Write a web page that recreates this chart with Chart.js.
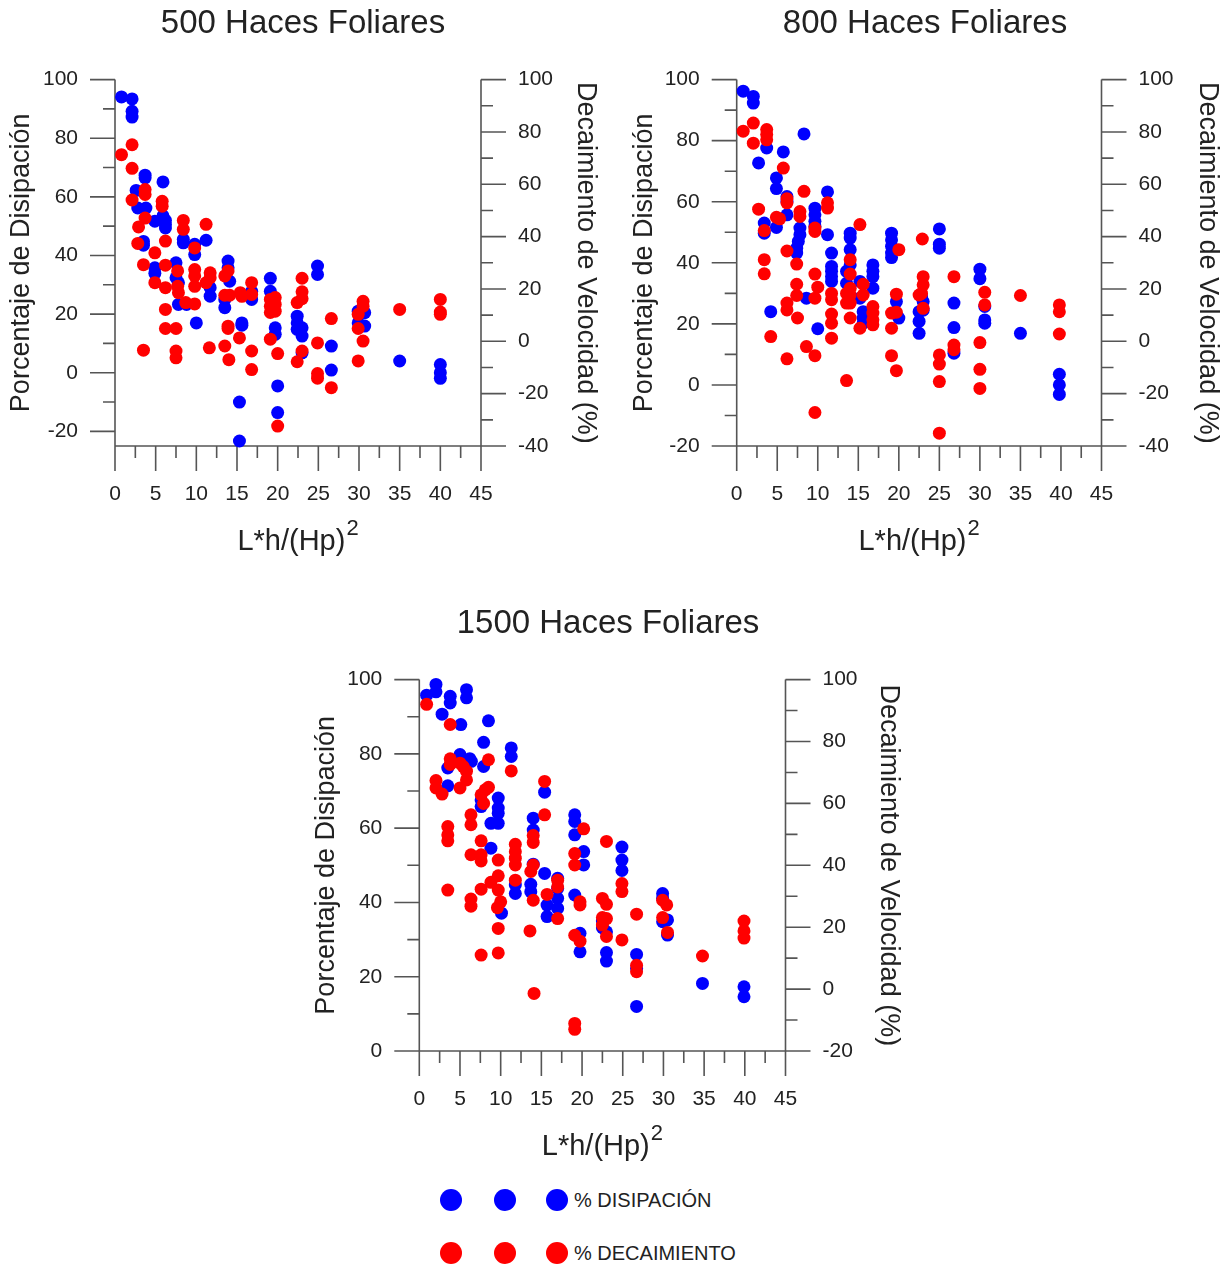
<!DOCTYPE html>
<html>
<head>
<meta charset="utf-8">
<script src="https://cdn.jsdelivr.net/npm/chart.js@4.4.0/dist/chart.umd.min.js"></script>
<style>
  body { margin: 0; background: #fff; width: 1228px; height: 1265px; position: relative; overflow: hidden;
         font-family: "Liberation Sans", Arial, sans-serif; }
  canvas { position: absolute; }
  .dot { position: absolute; width: 22px; height: 22px; border-radius: 50%; }
  .legend-text { position: absolute; font-size: 20px; color: #222; line-height: 24px; white-space: nowrap; }
</style>
</head>
<body>
<canvas id="chart500" width="606" height="562" style="left:0px;top:0px"></canvas>
<canvas id="chart800" width="606" height="562" style="left:622px;top:0px"></canvas>
<canvas id="chart1500" width="606" height="566" style="left:305px;top:600px"></canvas>

<div id="legend"></div>

<script>
// ---------------- data (x = L*h/(Hp)^2) ----------------
// % disipacion -> left axis, % decaimiento -> right axis
const dis500 = [[0.8,94.1],[2.1,93.4],[2.1,89.2],[2.1,87.2],[3.7,67.4],[3.7,66.5],[2.6,62.2],[2.8,56.2],[3.8,56.2],
  [5.9,65.1],[4.9,51.7],[6.2,52],[6.2,50.6],[6.2,49.4],[5.9,53.5],[3.5,44.8],[3.5,43.5],[4.9,35.8],[4.9,33.9],
  [7.5,37.5],[7.5,32.4],[7.8,30.7],[7.8,23.3],[8.8,23.3],[8.4,45.5],[8.4,44.3],[9.8,43.8],[9.8,40.3],[11.2,45.2],
  [10,17],[11.7,29],[11.7,26.1],[13.9,38.1],[13.9,35.8],[14.1,31.2],[13.5,25],[13.5,22.2],[15.6,17],[15.6,16.2],
  [16.8,27.8],[16.8,25],[19.1,32.2],[19.1,27.8],[19.7,15.3],[19.7,13.1],[20,-4.5],[20,-13.6],[15.3,-10],[15.3,-23.3],
  [22.4,19.3],[22.4,17],[22.4,14.8],[23,15.3],[23,12.5],[23,6.8],[24.9,36.4],[24.9,33.5],[26.6,9.1],[26.6,0.9],
  [29.9,21],[30.7,20.5],[29.9,17],[30.7,15.9],[35,4],[40,2.8],[40,0],[40,-1.9]];
const dec500 = [[0.8,71.3],[2.1,75.1],[2.1,66.1],[2.1,54],[2.9,43.7],[2.8,37.4],[3.7,58],[3.7,56.1],[3.7,47.1],
  [3.5,29.3],[3.5,-3.4],[4.9,33.8],[4.9,22.4],[5.8,53.5],[5.8,51.6],[6.2,38.3],[6.2,29.1],[6.2,20.5],[6.2,12.2],
  [6.2,4.9],[7.5,4.9],[7.5,-3.7],[7.5,-6.3],[7.7,26.9],[7.7,21],[7.8,18.6],[8.4,46.2],[8.4,42.8],[8.7,14.8],
  [9.8,35.7],[9.8,27.4],[9.8,25],[9.8,21],[9.8,14.3],[11.2,44.7],[11.2,22.4],[11.7,26.2],[11.7,24.3],[11.6,-2.5],
  [13.5,25],[13.9,26.9],[13.5,17.6],[14.1,17.6],[13.5,-1.8],[13.9,5.8],[13.9,4.9],[14,-7],[15.3,1.3],[15.4,18.6],
  [15.6,17.2],[16.8,22.4],[16.8,17.9],[16.8,-3.7],[16.8,-10.8],[19.1,16],[19.1,13.4],[19.1,11],[19.7,16.7],
  [19.7,14.1],[19.7,11.5],[19.1,0.8],[20,-4.7],[20,-32.4],[23,24.1],[23,18.9],[23,16.3],[22.4,14.8],[22.4,-7.8],
  [23,-3.7],[24.9,-0.6],[24.9,-12.3],[24.9,-14.1],[26.6,8.7],[26.6,-17.7],[30.5,15.3],[30.5,13.4],[29.9,10.3],
  [29.9,4.9],[30.5,0.1],[29.9,-7.5],[35,12.2],[40,16],[40,11.2],[40,10.3]];

const dis800 = [[0.8,96.2],[2.05,94.5],[2.05,92.3],[3.7,77.6],[2.7,72.7],[5.75,76.3],[8.3,82.2],[4.9,67.8],[4.9,64.3],
  [6.2,61.7],[6.2,60.1],[6.2,55.7],[3.4,53],[3.4,49.7],[4.9,51.6],[7.8,51.4],[7.8,49.2],[7.6,47],[7.4,44.8],[7.4,43.2],
  [9.65,57.9],[9.65,55.7],[9.65,53.6],[9.65,51.9],[11.2,63.2],[11.2,49.2],[11.7,43.2],[11.7,38.8],[11.7,37.2],
  [11.7,35.5],[11.7,33.9],[4.2,24],[8.6,28.4],[10,18.4],[14,49.7],[14,48.1],[14,44.3],[14,39.3],[13.55,37.2],
  [13.55,33.3],[15.2,33.9],[15.2,28.4],[15.6,24],[15.6,21.9],[15.6,20.2],[16.8,39.3],[16.8,37.2],[16.8,35.5],
  [16.8,31.7],[19.1,49.7],[19.1,47.5],[19.1,45.4],[19.1,43.2],[19.1,41.7],[19.7,27.3],[20,21.9],[22.5,24],
  [22.5,20.8],[22.5,16.9],[23,27.3],[23,24.5],[22.8,29],[25,51.1],[25,46.1],[25,44.8],[26.8,26.8],[26.8,18.8],
  [26.8,10.4],[30,37.9],[30,34.8],[30.6,25.7],[30.6,21.3],[30.6,20.2],[35,16.9],[39.8,3.5],[39.8,0],[39.8,-3.1]];
const dec800 = [[0.8,80.3],[2.05,83.4],[2.05,75.7],[3.7,80.9],[3.7,79],[3.7,77],[5.75,66.2],[2.7,50.5],[3.4,42.3],
  [3.4,31.2],[3.4,25.8],[4.2,1.8],[4.9,47.4],[5.3,46.8],[6.2,54.5],[6.2,52.9],[6.2,34.5],[6.2,14.6],[6.2,12],
  [6.2,-6.7],[7.8,49.6],[7.8,47.7],[7.4,29.5],[7.4,21.8],[7.4,17.5],[7.5,8.9],[8.3,57.3],[8.6,-2],[9.65,43.3],
  [9.65,42],[9.65,25.7],[10,20.7],[9.65,16.5],[9.65,-5.5],[9.65,-27.2],[11.2,52.9],[11.2,50.9],[11.7,18.3],
  [11.7,15.9],[11.7,10.4],[11.7,6.9],[11.7,1.2],[14,31.2],[14,25.7],[14,20.3],[14,17.7],[14,14.6],[13.55,18.3],
  [13.55,14.6],[14,8.9],[13.55,-15],[15.2,44.6],[15.6,21.8],[15.6,17.7],[15.2,5],[16.8,13.3],[16.8,10.8],
  [16.8,8.2],[16.8,6.3],[19.1,10.8],[19.1,5],[19.1,-5.5],[19.7,18],[19.7,11.1],[19.7,-11.2],[20,35],[22.9,39.1],
  [23,24.7],[23,21.6],[22.8,18.3],[22.5,17.7],[23,12.6],[25,-5.2],[25,-8.7],[25,-15.4],[25,-35.1],[26.8,24.7],
  [26.8,-1.4],[26.8,-3.2],[30,-0.5],[30,-10.7],[30,-18],[30.6,18.7],[30.6,13.9],[35,17.5],[39.8,13.9],[39.8,11.3],
  [39.8,2.8]];

const dis1500 = [[0.9,95.8],[2.05,98.7],[2.05,96.7],[2.8,90.7],[3.8,95.5],[3.8,93.7],[5.8,97.3],[5.8,95.1],[5.1,87.9],
  [8.5,88.9],[7.9,83.1],[5,79.8],[6.2,78.7],[6.4,78],[3.5,76.2],[3.5,71.4],[7.9,76.6],[11.3,81.6],[11.3,79.3],
  [7.6,67.6],[7.6,65.8],[9.7,68.1],[9.7,65.4],[9.7,64],[9.7,61.3],[8.8,61.3],[8.8,54.6],[10.1,37.1],[15.4,69.7],
  [14,62.7],[14,59.5],[14,50.3],[13.7,44.9],[13.7,42.9],[11.8,44.7],[11.8,42.4],[15.4,47.8],[15.7,39.3],[15.7,36.2],
  [17,46.5],[17,43.8],[17,41.1],[17,38.4],[19.1,63.6],[19.1,61.8],[19.1,58.2],[20.2,53.7],[20.2,50.1],[19.1,42],
  [19.75,31.7],[19.75,26.7],[22.5,35],[22.5,33.2],[23,32.1],[23,26.5],[23,24.2],[24.9,54.9],[24.9,51.4],[24.9,48.6],
  [26.7,26],[26.7,22.2],[26.7,12],[29.9,42.4],[29.9,41.1],[29.9,34.8],[30.5,35.3],[30.5,31.2],[34.8,18.2],
  [39.9,17.3],[39.9,14.6]];
const dec1500 = [[0.9,92],[3.8,85.5],[3.8,74.4],[3.8,72.6],[2.05,67.4],[2.05,65],[2.8,63],[5,73],[5.4,71.9],
  [5.8,70.4],[5.8,67.6],[5,65],[8.5,74.1],[7.6,62.8],[8.1,64.4],[8.5,65.2],[7.9,60],[11.3,70.5],[6.35,56.3],
  [6.35,53.1],[3.5,52.5],[3.5,49.8],[3.5,47.9],[7.6,47.9],[6.35,43.4],[7.6,43.4],[7.6,41.4],[3.5,32],[6.35,29.1],
  [6.35,26.8],[7.6,32.3],[8.8,34.5],[9.7,41.7],[9.7,36.6],[9.7,32],[10,28.2],[9.6,26.3],[9.7,19.6],[7.6,11],
  [9.7,11.7],[11.8,46.8],[11.8,44.4],[11.8,42.3],[11.8,40.1],[11.8,35.2],[14,49.6],[14,47.4],[14,40.1],[13.7,38],
  [14,28.7],[13.6,18.8],[14.1,-1.4],[15.4,67.1],[15.4,56.3],[15.7,30.6],[17,35.2],[17,33],[17,22.8],[19.1,43.8],
  [19.1,40.1],[20.2,51.8],[19.75,28.2],[19.75,27.2],[19.1,17.4],[19.75,15.5],[19.1,-11.1],[19.1,-13],[23,47.7],
  [22.5,29.3],[23,27.4],[22.5,23.1],[23,22.8],[22.5,20.7],[23,17],[24.9,34.1],[24.9,31.5],[24.9,15.9],[26.7,24.2],
  [26.7,7.7],[26.7,5.6],[29.9,28.7],[30.4,27.2],[29.9,23.1],[30.5,18.3],[34.8,10.7],[39.9,22],[39.9,18.8],[39.9,16.5]];

// tick labels
const xTickLabels = [0, 5, 10, 15, 20, 25, 30, 35, 40, 45];
const leftTicks500 = [-20, 0, 20, 40, 60, 80, 100];
const leftTicks800 = [-20, 0, 20, 40, 60, 80, 100];
const leftTicks1500 = [0, 20, 40, 60, 80, 100];
const rightTicks500 = [-40, -20, 0, 20, 40, 60, 80, 100];
const rightTicks800 = [-40, -20, 0, 20, 40, 60, 80, 100];
const rightTicks1500 = [-20, 0, 20, 40, 60, 80, 100];

const seriesNames = ["% DISIPACIÓN", "% DECAIMIENTO"];
const seriesColors = ["#0000ff", "#ff0000"];

// ---------------- drawing ----------------
const FONT = '"Liberation Sans", Arial, sans-serif';
const TEXT = "#222";
const AXIS = "#555";
const MAJOR = 25;
const MINOR = 12;

Chart.defaults.font.family = FONT;
Chart.defaults.color = TEXT;

// every labelled tick plus the minor one halfway to the next
function withMinor(labels) {
  const out = [];
  labels.forEach((v, i) => {
    out.push(v);
    if (i < labels.length - 1) out.push((v + labels[i + 1]) / 2);
  });
  return out;
}

const toPoints = (arr) => arr.map(p => ({ x: p[0], y: p[1] }));

// axis lines and tick marks (drawn under the points)
const framePlugin = {
  id: "frame",
  beforeDatasetsDraw(chart) {
    const { ctx, chartArea: a, scales } = chart;
    ctx.save();
    ctx.strokeStyle = AXIS;
    ctx.lineWidth = 1.6;
    ctx.beginPath();
    ctx.moveTo(a.left, a.bottom);
    ctx.lineTo(a.right, a.bottom);
    ctx.moveTo(a.left, a.top);
    ctx.lineTo(a.left, a.bottom + MAJOR);
    ctx.moveTo(a.right, a.top);
    ctx.lineTo(a.right, a.bottom + MAJOR);

    scales.x.ticks.forEach(t => {
      const px = scales.x.getPixelForValue(t.value);
      const len = t.label !== "" ? MAJOR : MINOR;
      ctx.moveTo(px, a.bottom);
      ctx.lineTo(px, a.bottom + len);
    });
    scales.y.ticks.forEach(t => {
      const py = scales.y.getPixelForValue(t.value);
      const len = t.label !== "" ? MAJOR : MINOR;
      ctx.moveTo(a.left, py);
      ctx.lineTo(a.left - len, py);
    });
    scales.y2.ticks.forEach(t => {
      const py = scales.y2.getPixelForValue(t.value);
      const len = t.label !== "" ? MAJOR : MINOR;
      ctx.moveTo(a.right, py);
      ctx.lineTo(a.right + len, py);
    });
    ctx.stroke();
    ctx.restore();
  }
};

// x axis title with the raised "2"
const xTitlePlugin = {
  id: "xTitle",
  afterDraw(chart) {
    const { ctx, chartArea: a } = chart;
    const main = "L*h/(Hp)";
    const sup = "2";
    ctx.save();
    ctx.fillStyle = TEXT;
    ctx.textBaseline = "alphabetic";
    ctx.textAlign = "left";
    ctx.font = "29px " + FONT;
    const w1 = ctx.measureText(main).width;
    ctx.font = "22px " + FONT;
    const w2 = ctx.measureText(sup).width;
    const x0 = (a.left + a.right) / 2 - (w1 + w2 + 1) / 2;
    const base = a.bottom + 104;
    ctx.font = "29px " + FONT;
    ctx.fillText(main, x0, base);
    ctx.font = "22px " + FONT;
    ctx.fillText(sup, x0 + w1 + 1, base - 15);
    ctx.restore();
  }
};

function tickAxis(labels, extra) {
  const ticks = withMinor(labels);
  return Object.assign({
    type: "linear",
    afterBuildTicks: (s) => { s.ticks = ticks.map(v => ({ value: v })); },
    grid: { display: true, drawOnChartArea: false, drawTicks: true, tickLength: MAJOR, color: "rgba(0,0,0,0)" },
    border: { display: false },
    ticks: {
      autoSkip: false,
      maxRotation: 0,
      font: { size: 21 },
      color: TEXT,
      callback: (v) => labels.includes(v) ? String(v) : ""
    }
  }, extra);
}

function buildChart(id, o) {
  const x = tickAxis(xTickLabels, { min: 0, max: 45, afterFit: (s) => { s.height = o.xHeight; } });
  x.ticks.padding = 11;

  const y = tickAxis(o.leftTicks, {
    position: "left", min: o.leftMin, max: 100,
    afterFit: (s) => { s.width = o.yWidth; },
    title: { display: true, text: "Porcentaje de Disipación", font: { size: 27 }, color: TEXT,
             padding: { top: o.yTitlePad, bottom: 0 } }
  });
  y.ticks.padding = 12;

  const y2 = tickAxis(o.rightTicks, {
    position: "right", min: o.rightMin, max: 100,
    afterFit: (s) => { s.width = o.y2Width; },
    title: { display: true, text: "Decaimiento de Velocidad (%)", font: { size: 27 }, color: TEXT,
             padding: { top: o.y2TitlePad, bottom: 0 } }
  });
  y2.ticks.padding = 12;

  return new Chart(document.getElementById(id), {
    type: "scatter",
    data: {
      datasets: [
        {
          label: seriesNames[1], data: toPoints(o.dec), yAxisID: "y2", order: 1,
          backgroundColor: seriesColors[1], pointBackgroundColor: seriesColors[1],
          pointRadius: 6.5, pointBorderWidth: 0, borderWidth: 0, clip: false
        },
        {
          label: seriesNames[0], data: toPoints(o.dis), yAxisID: "y", order: 2,
          backgroundColor: seriesColors[0], pointBackgroundColor: seriesColors[0],
          pointRadius: 6.5, pointBorderWidth: 0, borderWidth: 0, clip: false
        }
      ]
    },
    options: {
      responsive: false,
      animation: false,
      layout: { padding: 0 },
      plugins: {
        legend: { display: false },
        tooltip: { enabled: false },
        title: { display: true, text: o.title, font: { size: 33, weight: "normal" }, color: TEXT,
                 padding: { top: 4, bottom: 36 } }
      },
      scales: { x: x, y: y, y2: y2 }
    },
    plugins: [framePlugin, xTitlePlugin]
  });
}

buildChart("chart500", {
  title: "500 Haces Foliares", dis: dis500, dec: dec500,
  leftTicks: leftTicks500, rightTicks: rightTicks500, leftMin: -25, rightMin: -40,
  yWidth: 115, y2Width: 125, xHeight: 116, yTitlePad: 5.8, y2TitlePad: 4.8
});
buildChart("chart800", {
  title: "800 Haces Foliares", dis: dis800, dec: dec800,
  leftTicks: leftTicks800, rightTicks: rightTicks800, leftMin: -20, rightMin: -40,
  yWidth: 114.7, y2Width: 126.5, xHeight: 116, yTitlePad: 6.8, y2TitlePad: 4.8
});
buildChart("chart1500", {
  title: "1500 Haces Foliares", dis: dis1500, dec: dec1500,
  leftTicks: leftTicks1500, rightTicks: rightTicks1500, leftMin: 0, rightMin: -20,
  yWidth: 114.3, y2Width: 125.5, xHeight: 115, yTitlePad: 5.8, y2TitlePad: 6.8
});

// legend: three symbols and a name per series
const legend = document.getElementById("legend");
const legendDotX = [451, 505, 557];
const legendRowY = [1200, 1253];
seriesNames.forEach((name, i) => {
  legendDotX.forEach(cx => {
    const d = document.createElement("div");
    d.className = "dot";
    d.style.background = seriesColors[i];
    d.style.left = (cx - 11) + "px";
    d.style.top = (legendRowY[i] - 11) + "px";
    legend.appendChild(d);
  });
  const t = document.createElement("div");
  t.className = "legend-text";
  t.textContent = name;
  t.style.left = "574px";
  t.style.top = (legendRowY[i] - 12) + "px";
  legend.appendChild(t);
});
</script>
</body>
</html>
